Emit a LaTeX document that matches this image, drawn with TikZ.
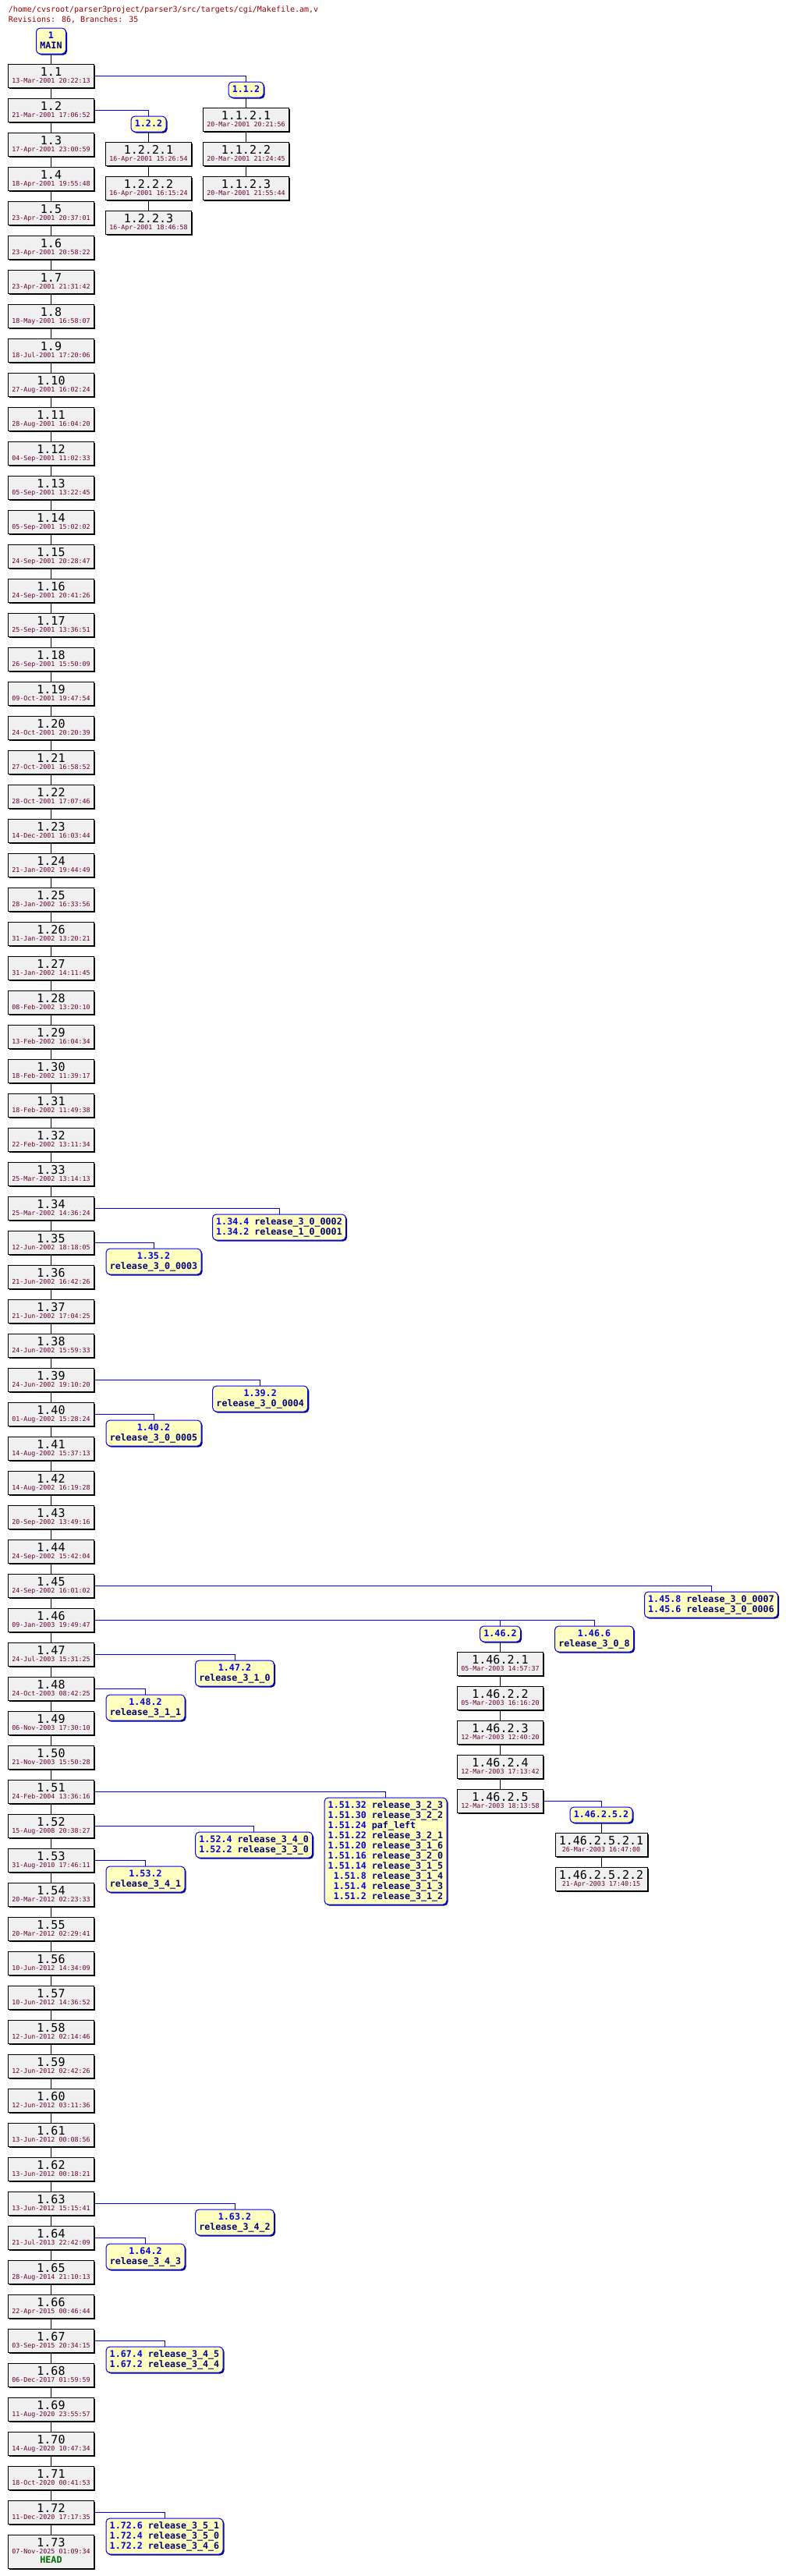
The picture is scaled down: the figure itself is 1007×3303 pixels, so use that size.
\documentclass[tikz,border=0pt]{standalone}
\usepackage{fontspec}
\usetikzlibrary{shadows}
\newfontfamily\monof{DejaVu Sans Mono}
\newcommand\revfont{\monof\fontsize{15}{15}\selectfont}
\newcommand\datefont{\monof\fontsize{8.33}{9}\selectfont}
\newcommand\tagfont{\monof\bfseries\fontsize{11.67}{13}\selectfont}
\newcommand\hdrfont{\monof\fontsize{10}{13}\selectfont}
\definecolor{revfill}{RGB}{240,240,240}
\definecolor{datec}{RGB}{102,0,51}
\definecolor{hdrc}{RGB}{153,0,0}
\definecolor{tagfill}{RGB}{255,255,192}
\definecolor{tagline}{RGB}{0,0,255}
\definecolor{tagshadow}{RGB}{0,0,110}
\definecolor{rcol}{RGB}{0,0,225}
\definecolor{ncol}{RGB}{0,0,120}
\definecolor{brc}{RGB}{0,0,215}
\definecolor{headc}{RGB}{0,112,0}
\newcommand\us{\char"5F\relax}
\newcommand\gap{\hphantom{0}}
\newcommand\tagrev[1]{\textcolor{rcol}{#1}}
\newcommand\tagnm[1]{\textcolor{ncol}{#1}}
\newcommand\ts{\rule[-3.2pt]{0pt}{13pt}}
\newcommand\tagc[1]{\vbox{\offinterlineskip\halign{\hfil\tagfont\ts##\hfil\cr#1}}}
\newcommand\tagl[1]{\vbox{\offinterlineskip\halign{\tagfont\ts##\hfil\cr#1}}}
\newcommand\rvbox[2]{\vbox to30pt{\offinterlineskip\halign{\hfil##\hfil\cr\noalign{\vskip15.7pt}\smash{\revfont#1}\cr\noalign{\vskip9pt}\smash{\datefont\color{datec}#2}\cr}\vss}}
\newcommand\rvboxhead[2]{\vbox to43pt{\offinterlineskip\halign{\hfil##\hfil\cr\noalign{\vskip15.7pt}\smash{\revfont#1}\cr\noalign{\vskip9pt}\smash{\datefont\color{datec}#2}\cr\noalign{\vskip11.8pt}\smash{\tagfont\color{headc}HEAD}\cr}\vss}}
\pgfdeclarelayer{bg}
\pgfsetlayers{bg,main}
\tikzset{
  revbox/.style={draw=black, line width=1pt, fill=revfill, inner sep=0pt,
    minimum width=110pt, minimum height=30pt,
    general shadow={fill=black, shadow xshift=1.6pt, shadow yshift=-1.6pt}},
  tagbox/.style={draw=tagline, line width=1pt, fill=tagfill, inner sep=0pt, rounded corners=5pt,
    general shadow={fill=tagshadow, shadow xshift=1.6pt, shadow yshift=-1.6pt}},
  trunk/.style={draw=black, line width=1pt},
  brline/.style={draw=brc, line width=1pt},
  hdr/.style={anchor=base west, inner sep=0pt, font=\hdrfont, text=hdrc}
}
\begin{document}
\begin{tikzpicture}[x=1pt,y=-1pt]
\begin{pgfonlayer}{bg}
\fill[white] (0,0) rectangle (1007,3303);
\end{pgfonlayer}
\useasboundingbox (0,0) rectangle (1007,3303);
% header
\node[hdr] (hdr1) at (10.7,15.5) {/home/cvsroot/parser3project/parser3/src/targets/cgi/Makefile.am,v};
\node[hdr] (hdr2) at (10.7,28.5) {Revisions: 86, Branches: 35};
% MAIN
\node[tagbox, minimum width=38pt, minimum height=33pt] (main) at (65.5,52.5) {\tagc{\tagrev{1}\cr\tagnm{MAIN}\cr}};
% trunk
\foreach \k/\d in {1/13-Mar-2001 20:22:13, 2/21-Mar-2001 17:06:52, 3/17-Apr-2001 23:00:59, 4/18-Apr-2001 19:55:48,
 5/23-Apr-2001 20:37:01, 6/23-Apr-2001 20:58:22, 7/23-Apr-2001 21:31:42, 8/18-May-2001 16:58:07,
 9/18-Jul-2001 17:20:06, 10/27-Aug-2001 16:02:24, 11/28-Aug-2001 16:04:20, 12/04-Sep-2001 11:02:33,
 13/05-Sep-2001 13:22:45, 14/05-Sep-2001 15:02:02, 15/24-Sep-2001 20:28:47, 16/24-Sep-2001 20:41:26,
 17/25-Sep-2001 13:36:51, 18/26-Sep-2001 15:50:09, 19/09-Oct-2001 19:47:54, 20/24-Oct-2001 20:20:39,
 21/27-Oct-2001 16:58:52, 22/28-Oct-2001 17:07:46, 23/14-Dec-2001 16:03:44, 24/21-Jan-2002 19:44:49,
 25/28-Jan-2002 16:33:56, 26/31-Jan-2002 13:20:21, 27/31-Jan-2002 14:11:45, 28/08-Feb-2002 13:20:10,
 29/13-Feb-2002 16:04:34, 30/18-Feb-2002 11:39:17, 31/18-Feb-2002 11:49:38, 32/22-Feb-2002 13:11:34,
 33/25-Mar-2002 13:14:13, 34/25-Mar-2002 14:36:24, 35/12-Jun-2002 18:18:05, 36/21-Jun-2002 16:42:26,
 37/21-Jun-2002 17:04:25, 38/24-Jun-2002 15:59:33, 39/24-Jun-2002 19:10:20, 40/01-Aug-2002 15:28:24,
 41/14-Aug-2002 15:37:13, 42/14-Aug-2002 16:19:28, 43/20-Sep-2002 13:49:16, 44/24-Sep-2002 15:42:04,
 45/24-Sep-2002 16:01:02, 46/09-Jan-2003 19:49:47, 47/24-Jul-2003 15:31:25, 48/24-Oct-2003 08:42:25,
 49/06-Nov-2003 17:30:10, 50/21-Nov-2003 15:50:28, 51/24-Feb-2004 13:36:16, 52/15-Aug-2008 20:38:27,
 53/31-Aug-2010 17:46:11, 54/20-Mar-2012 02:23:33, 55/20-Mar-2012 02:29:41, 56/10-Jun-2012 14:34:09,
 57/10-Jun-2012 14:36:52, 58/12-Jun-2012 02:14:46, 59/12-Jun-2012 02:42:26, 60/12-Jun-2012 03:11:36,
 61/13-Jun-2012 00:08:56, 62/13-Jun-2012 00:18:21, 63/13-Jun-2012 15:15:41, 64/21-Jul-2013 22:42:09,
 65/28-Aug-2014 21:10:13, 66/22-Apr-2015 00:46:44, 67/03-Sep-2015 20:34:15, 68/06-Dec-2017 01:59:59,
 69/11-Aug-2020 23:55:57, 70/14-Aug-2020 10:47:34, 71/18-Oct-2020 00:41:53, 72/11-Dec-2020 17:17:35}
 \node[revbox] (r1x\k) at (65.5,{97+44*(\k-1)}) {\rvbox{1.\k}{\d}};
\node[revbox, minimum height=43pt] (r1x73) at (65.5,3271.5) {\rvboxhead{1.73}{07-Nov-2025 01:09:34}};
% branch 1.1.2
\node[tagbox, minimum width=45pt, minimum height=20pt] (t1x1x2) at (315.5,115) {\tagc{\tagrev{1.1.2}\cr}};
\node[revbox] (r1x1x2x1) at (315.5,153) {\rvbox{1.1.2.1}{20-Mar-2001 20:21:56}};
\node[revbox] (r1x1x2x2) at (315.5,197) {\rvbox{1.1.2.2}{20-Mar-2001 21:24:45}};
\node[revbox] (r1x1x2x3) at (315.5,241) {\rvbox{1.1.2.3}{20-Mar-2001 21:55:44}};
% branch 1.2.2
\node[tagbox, minimum width=45pt, minimum height=20pt] (t1x2x2) at (190.5,159) {\tagc{\tagrev{1.2.2}\cr}};
\node[revbox] (r1x2x2x1) at (190.5,197) {\rvbox{1.2.2.1}{16-Apr-2001 15:26:54}};
\node[revbox] (r1x2x2x2) at (190.5,241) {\rvbox{1.2.2.2}{16-Apr-2001 16:15:24}};
\node[revbox] (r1x2x2x3) at (190.5,285) {\rvbox{1.2.2.3}{16-Apr-2001 18:46:58}};
% tags on trunk
\node[tagbox, minimum width=171pt, minimum height=33pt] (t1x34) at (358,1573.5)
  {\tagl{\tagrev{1.34.4}\gap\tagnm{release\us3\us0\us0002}\cr\tagrev{1.34.2}\gap\tagnm{release\us1\us0\us0001}\cr}};
\node[tagbox, minimum width=122pt, minimum height=33pt] (t1x35) at (197,1617.5)
  {\tagc{\tagrev{1.35.2}\cr\tagnm{release\us3\us0\us0003}\cr}};
\node[tagbox, minimum width=122pt, minimum height=33pt] (t1x39) at (333.7,1793.5)
  {\tagc{\tagrev{1.39.2}\cr\tagnm{release\us3\us0\us0004}\cr}};
\node[tagbox, minimum width=122pt, minimum height=33pt] (t1x40) at (197,1837.5)
  {\tagc{\tagrev{1.40.2}\cr\tagnm{release\us3\us0\us0005}\cr}};
\node[tagbox, minimum width=171pt, minimum height=33pt] (t1x45) at (912,2057.5)
  {\tagl{\tagrev{1.45.8}\gap\tagnm{release\us3\us0\us0007}\cr\tagrev{1.45.6}\gap\tagnm{release\us3\us0\us0006}\cr}};
\node[tagbox, minimum width=52pt, minimum height=20pt] (t1x46x2) at (641.5,2095) {\tagc{\tagrev{1.46.2}\cr}};
\node[tagbox, minimum width=101pt, minimum height=33pt] (t1x46x6) at (762,2101.5)
  {\tagc{\tagrev{1.46.6}\cr\tagnm{release\us3\us0\us8}\cr}};
\node[tagbox, minimum width=101pt, minimum height=33pt] (t1x47) at (301,2145.5)
  {\tagc{\tagrev{1.47.2}\cr\tagnm{release\us3\us1\us0}\cr}};
\node[tagbox, minimum width=101pt, minimum height=33pt] (t1x48) at (186.5,2189.5)
  {\tagc{\tagrev{1.48.2}\cr\tagnm{release\us3\us1\us1}\cr}};
\node[tagbox, minimum width=157pt, minimum height=137pt] (t1x51) at (494.5,2373.5)
  {\tagl{\tagrev{1.51.32}\gap\tagnm{release\us3\us2\us3}\cr
         \tagrev{1.51.30}\gap\tagnm{release\us3\us2\us2}\cr
         \tagrev{1.51.24}\gap\tagnm{paf\us left}\cr
         \tagrev{1.51.22}\gap\tagnm{release\us3\us2\us1}\cr
         \tagrev{1.51.20}\gap\tagnm{release\us3\us1\us6}\cr
         \tagrev{1.51.16}\gap\tagnm{release\us3\us2\us0}\cr
         \tagrev{1.51.14}\gap\tagnm{release\us3\us1\us5}\cr
         \gap\tagrev{1.51.8}\gap\tagnm{release\us3\us1\us4}\cr
         \gap\tagrev{1.51.4}\gap\tagnm{release\us3\us1\us3}\cr
         \gap\tagrev{1.51.2}\gap\tagnm{release\us3\us1\us2}\cr}};
\node[tagbox, minimum width=150pt, minimum height=33pt] (t1x52) at (325.7,2365.5)
  {\tagl{\tagrev{1.52.4}\gap\tagnm{release\us3\us4\us0}\cr\tagrev{1.52.2}\gap\tagnm{release\us3\us3\us0}\cr}};
\node[tagbox, minimum width=101pt, minimum height=33pt] (t1x53) at (186.5,2409.5)
  {\tagc{\tagrev{1.53.2}\cr\tagnm{release\us3\us4\us1}\cr}};
\node[tagbox, minimum width=101pt, minimum height=33pt] (t1x63) at (301,2849.5)
  {\tagc{\tagrev{1.63.2}\cr\tagnm{release\us3\us4\us2}\cr}};
\node[tagbox, minimum width=101pt, minimum height=33pt] (t1x64) at (186.5,2893.5)
  {\tagc{\tagrev{1.64.2}\cr\tagnm{release\us3\us4\us3}\cr}};
\node[tagbox, minimum width=150pt, minimum height=33pt] (t1x67) at (211,3025.5)
  {\tagl{\tagrev{1.67.4}\gap\tagnm{release\us3\us4\us5}\cr\tagrev{1.67.2}\gap\tagnm{release\us3\us4\us4}\cr}};
\node[tagbox, minimum width=150pt, minimum height=46pt] (t1x72) at (211,3252)
  {\tagl{\tagrev{1.72.6}\gap\tagnm{release\us3\us5\us1}\cr\tagrev{1.72.4}\gap\tagnm{release\us3\us5\us0}\cr\tagrev{1.72.2}\gap\tagnm{release\us3\us4\us6}\cr}};
% branch 1.46.2
\node[revbox] (r1x46x2x1) at (641.5,2133) {\rvbox{1.46.2.1}{05-Mar-2003 14:57:37}};
\node[revbox] (r1x46x2x2) at (641.5,2177) {\rvbox{1.46.2.2}{05-Mar-2003 16:16:20}};
\node[revbox] (r1x46x2x3) at (641.5,2221) {\rvbox{1.46.2.3}{12-Mar-2003 12:40:20}};
\node[revbox] (r1x46x2x4) at (641.5,2265) {\rvbox{1.46.2.4}{12-Mar-2003 17:13:42}};
\node[revbox] (r1x46x2x5) at (641.5,2309) {\rvbox{1.46.2.5}{12-Mar-2003 18:13:58}};
\node[tagbox, minimum width=80pt, minimum height=20pt] (t1x46x2x5x2) at (771,2327) {\tagc{\tagrev{1.46.2.5.2}\cr}};
\node[revbox, minimum width=118pt] (r1x46x2x5x2x1) at (771,2365) {\rvbox{1.46.2.5.2.1}{26-Mar-2003 16:47:00}};
\node[revbox, minimum width=118pt] (r1x46x2x5x2x2) at (771,2409) {\rvbox{1.46.2.5.2.2}{21-Apr-2003 17:40:15}};
% connectors
\begin{pgfonlayer}{bg}
\draw[trunk] (main) -- (r1x1);
\foreach \k [count=\n from 2] in {1,...,72} \draw[trunk] (r1x\k) -- (r1x\n);
\draw[brline] (r1x1.east) -| (t1x1x2.north);
\draw[trunk] (t1x1x2) -- (r1x1x2x1);
\draw[trunk] (r1x1x2x1) -- (r1x1x2x2);
\draw[trunk] (r1x1x2x2) -- (r1x1x2x3);
\draw[brline] (r1x2.east) -| (t1x2x2.north);
\draw[trunk] (t1x2x2) -- (r1x2x2x1);
\draw[trunk] (r1x2x2x1) -- (r1x2x2x2);
\draw[trunk] (r1x2x2x2) -- (r1x2x2x3);
\draw[brline] (r1x34.east) -| (t1x34.north);
\draw[brline] (r1x35.east) -| (t1x35.north);
\draw[brline] (r1x39.east) -| (t1x39.north);
\draw[brline] (r1x40.east) -| (t1x40.north);
\draw[brline] (r1x45.east) -| (t1x45.north);
\draw[brline] (r1x46.east) -| (t1x46x6.north);
\draw[brline] (r1x46.east) -| (t1x46x2.north);
\draw[trunk] (t1x46x2) -- (r1x46x2x1);
\draw[trunk] (r1x46x2x1) -- (r1x46x2x2);
\draw[trunk] (r1x46x2x2) -- (r1x46x2x3);
\draw[trunk] (r1x46x2x3) -- (r1x46x2x4);
\draw[trunk] (r1x46x2x4) -- (r1x46x2x5);
\draw[brline] (r1x46x2x5.east) -| (t1x46x2x5x2.north);
\draw[trunk] (t1x46x2x5x2) -- (r1x46x2x5x2x1);
\draw[trunk] (r1x46x2x5x2x1) -- (r1x46x2x5x2x2);
\draw[brline] (r1x47.east) -| (t1x47.north);
\draw[brline] (r1x48.east) -| (t1x48.north);
\draw[brline] (r1x51.east) -| (t1x51.north);
\draw[brline] (r1x52.east) -| (t1x52.north);
\draw[brline] (r1x53.east) -| (t1x53.north);
\draw[brline] (r1x63.east) -| (t1x63.north);
\draw[brline] (r1x64.east) -| (t1x64.north);
\draw[brline] (r1x67.east) -| (t1x67.north);
\draw[brline] (r1x72.east) -| (t1x72.north);
\end{pgfonlayer}
\end{tikzpicture}
\end{document}
